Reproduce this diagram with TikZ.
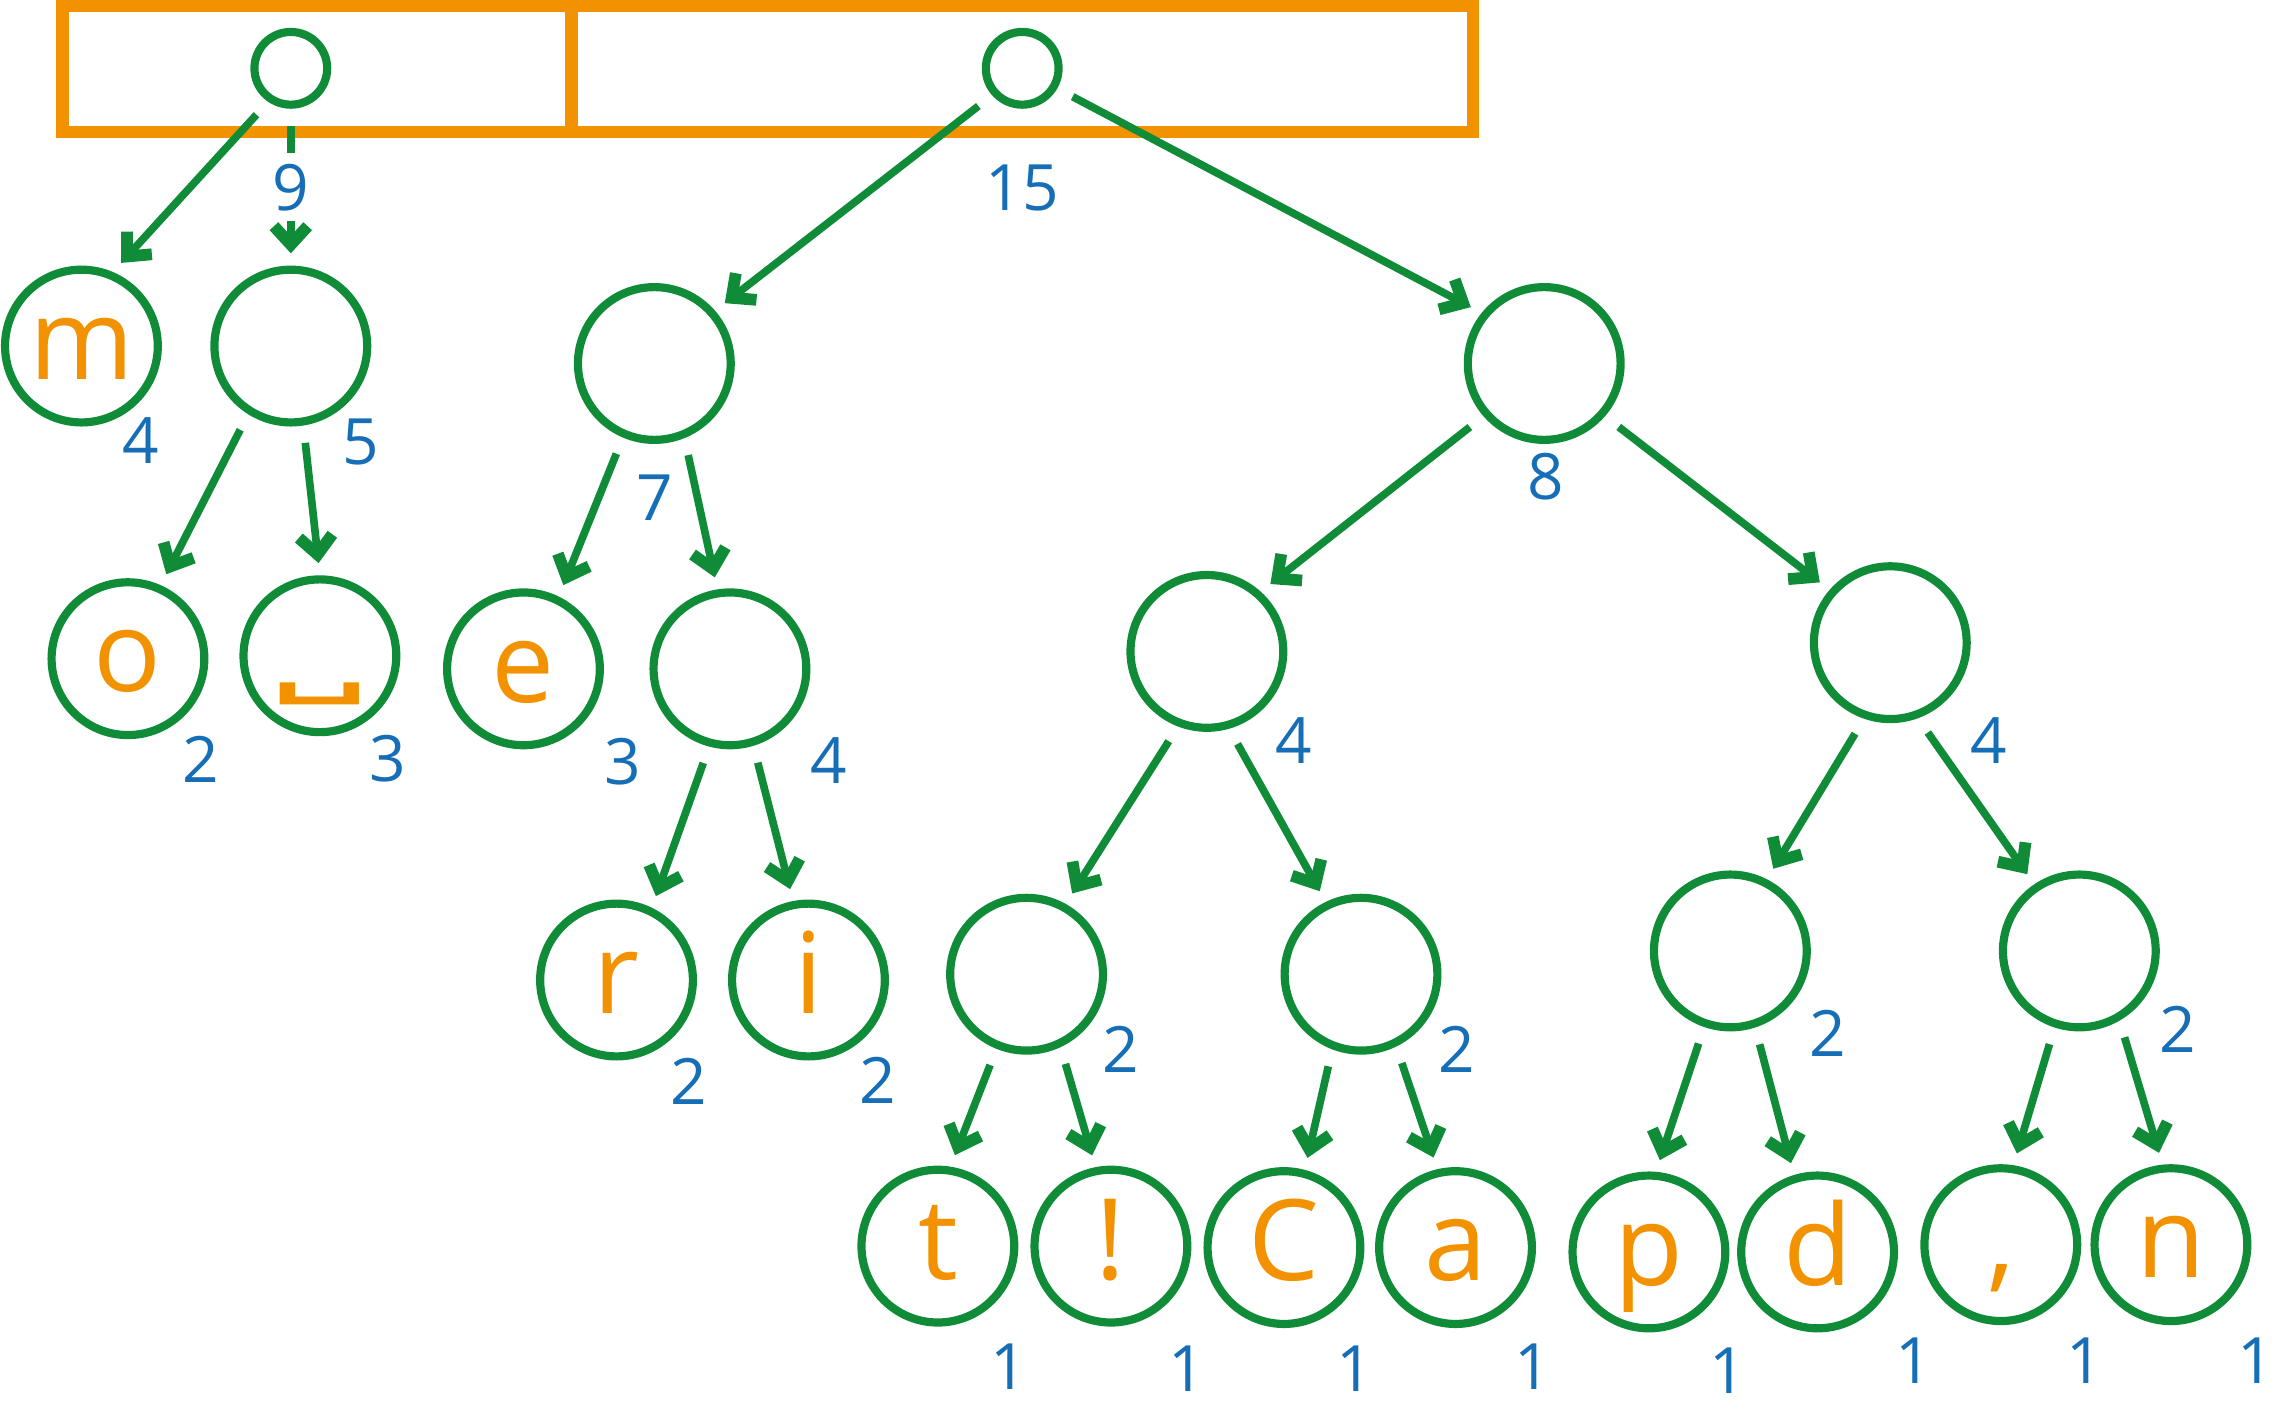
\documentclass[tikz,border=0pt]{standalone}
\usepackage{fontspec}
\usepackage{graphicx}
\setmainfont{Open Sans}
\newfontfamily\spacefont{DejaVu Sans}
\usetikzlibrary{arrows.meta}
\definecolor{hgreen}{RGB}{16,140,56}
\definecolor{horange}{RGB}{243,146,0}
\definecolor{hblue}{RGB}{22,110,182}

\begin{document}
\begin{tikzpicture}[x=0.01cm, y=-0.01cm,
  hnode/.style={circle, draw=hgreen, line width=1.6pt, minimum size=1.05cm, inner sep=0pt,
    text=horange, font=\fontsize{22}{22}\selectfont, text height=13pt, text depth=0pt},
  hroot/.style={circle, draw=hgreen, line width=1.6pt, minimum size=0.5cm, inner sep=0pt},
  num/.style={text=hblue, font=\fontsize{12.5}{12.5}\selectfont, inner sep=1pt},
  edge/.style={draw=hgreen, line width=1.5pt, -{Straight Barb[length=3.6pt, width=6.6pt, line width=2.3pt]},
    shorten <=3.4pt, shorten >=2.4pt}]
\useasboundingbox (0,0) rectangle (1568,971);

\draw[horange, line width=2.4pt] (43,4.3) rectangle (1013,90.8);
\draw[horange, line width=2.4pt] (393,4.3) -- (393,90.8);

\node[hroot] (r1) at (200,47) {};
\node[hroot] (r2) at (703,47) {};

\node[hnode] (m) at (56,238) {m};
\node[hnode] (n9) at (200,238) {};
\node[hnode] (o) at (88,453) {o};
\node[hnode] (sp) at (220,451) {\scalebox{1.2}[0.6]{\spacefont\bfseries ␣}};
\node[hnode] (n7) at (450,250) {};
\node[hnode] (e) at (360,460) {e};
\node[hnode] (n4a) at (502,460) {};
\node[hnode] (r) at (424,674) {r};
\node[hnode] (i) at (556,674) {i};
\node[hnode] (n8) at (1062,250) {};
\node[hnode] (n4b) at (830,448) {};
\node[hnode] (n4c) at (1300,442) {};
\node[hnode] (n2a) at (706,670) {};
\node[hnode] (n2b) at (936,670) {};
\node[hnode] (n2c) at (1190,654) {};
\node[hnode] (n2d) at (1430,654) {};
\node[hnode] (t) at (645,857) {t};
\node[hnode] (ex) at (764,857) {!};
\node[hnode] (c) at (883,858) {C};
\node[hnode] (a) at (1001,858) {a};
\node[hnode] (p) at (1134,861) {p};
\node[hnode] (d) at (1250,861) {d};
\node[hnode] (co) at (1376,856) {,};
\node[hnode] (n) at (1493,856) {n};

\node[num] (w15) at (703,129) {15};
\node[num] (wm) at (97,303) {4};
\node[num] (wn9) at (248,304) {5};
\node[num] (wn7) at (450,342) {7};
\node[num] (wn8) at (1063,328) {8};
\node[num] (wo) at (138,522) {2};
\node[num] (wsp) at (267,522) {3};
\node[num] (we) at (428,524) {3};
\node[num] (wn4a) at (570,523) {4};
\node[num] (wr) at (474,744) {2};
\node[num] (wi) at (604,743) {2};
\node[num] (wn4b) at (890,509) {4};
\node[num] (wn4c) at (1368,509) {4};
\node[num] (wn2a) at (771,722) {2};
\node[num] (wn2b) at (1002,722) {2};
\node[num] (wn2c) at (1257,711) {2};
\node[num] (wn2d) at (1498,708) {2};
\node[num] (wt) at (694,940) {1};
\node[num] (wex) at (816,941) {1};
\node[num] (wc) at (932,941) {1};
\node[num] (wa) at (1054,940) {1};
\node[num] (wp) at (1188,943) {1};
\node[num] (wd) at (1316,936) {1};
\node[num] (wco) at (1434,936) {1};
\node[num] (wn) at (1551,936) {1};

\draw[edge] (r1.236) -- (m.67);
\draw[edge] (r1.south) -- node[num, fill=white, inner sep=2pt] (w9) {9} (n9.north);
\draw[edge] (r2.222) -- (n7.41);
\draw[edge] (r2.330) -- (n8.141);
\draw[edge] (n9.238) -- (o.66);
\draw[edge] (n9.279) -- (sp.90);
\draw[edge] (n7.247) -- (e.64);
\draw[edge] (n7.292) -- (n4a.99);
\draw[edge] (n4a.255) -- (r.64);
\draw[edge] (n4a.287) -- (i.101);
\draw[edge] (n8.221) -- (n4b.48);
\draw[edge] (n8.319) -- (n4c.139);
\draw[edge] (n4b.249) -- (n2a.61);
\draw[edge] (n4b.286) -- (n2b.116);
\draw[edge] (n4c.251) -- (n2c.63);
\draw[edge] (n4c.290) -- (n2d.124);
\draw[edge] (n2a.248) -- (t.81);
\draw[edge] (n2a.295) -- (ex.101);
\draw[edge] (n2b.249) -- (c.75);
\draw[edge] (n2b.296) -- (a.103);
\draw[edge] (n2c.251) -- (p.85);
\draw[edge] (n2c.288) -- (d.107);
\draw[edge] (n2d.252) -- (co.81);
\draw[edge] (n2d.300) -- (n.96);
\end{tikzpicture}
\end{document}
